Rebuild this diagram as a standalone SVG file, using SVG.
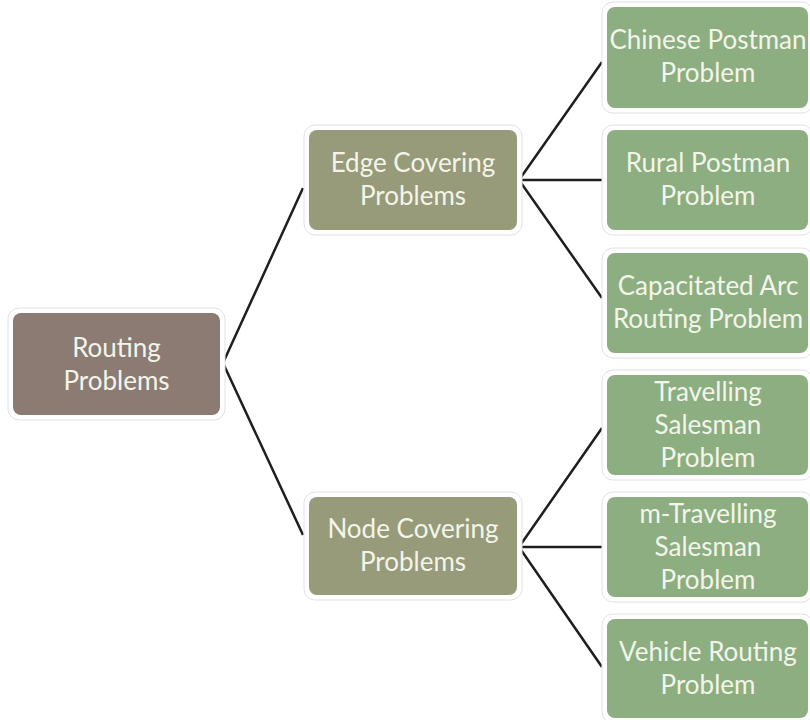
<svg xmlns="http://www.w3.org/2000/svg" width="810" height="720" viewBox="0 0 810 720">
<style>
.halo{fill:#ffffff;stroke:#e2e2e2;stroke-width:1}
.root{fill:#8b7b73}
.mid{fill:#979b79}
.leaf{fill:#8cae81}
text{font-family:Lato,"Open Sans","Liberation Sans",sans-serif;font-size:26px;fill:#f3f5ea;text-anchor:middle}
.conn{fill:none;stroke:#1e1e1e;stroke-width:2.5;stroke-linejoin:miter}
</style>
<rect width="810" height="720" fill="#ffffff"/>
<g id="connectors">
<path class="conn" d="M303,188 L223,363 L303,535"/>
<path class="conn" d="M602,62 L519,180 L602,298 M519,180 H602"/>
<path class="conn" d="M602,428 L519,547 L602,667 M519,547 H602"/>
</g>
<g id="routing">
<rect class="halo" x="8" y="308" width="217" height="112" rx="11"/>
<rect class="root" x="13" y="313" width="207" height="102" rx="8"/>
<text x="116.5" y="357">Routing</text>
<text x="116.5" y="390">Problems</text>
</g>
<g id="edge">
<rect class="halo" x="304" y="125" width="218" height="110" rx="11"/>
<rect class="mid" x="309" y="130" width="208" height="100" rx="8"/>
<text x="413" y="172">Edge Covering</text>
<text x="413" y="205">Problems</text>
</g>
<g id="node">
<rect class="halo" x="304" y="492" width="218" height="108" rx="11"/>
<rect class="mid" x="309" y="497" width="208" height="98" rx="8"/>
<text x="413" y="538">Node Covering</text>
<text x="413" y="571">Problems</text>
</g>
<g id="chinese">
<rect class="halo" x="602" y="2" width="211" height="111" rx="11"/>
<rect class="leaf" x="607" y="7" width="201" height="101" rx="8"/>
<text x="708" y="49">Chinese Postman</text>
<text x="708" y="82">Problem</text>
</g>
<g id="rural">
<rect class="halo" x="602" y="125" width="211" height="110" rx="11"/>
<rect class="leaf" x="607" y="130" width="201" height="100" rx="8"/>
<text x="708" y="172">Rural Postman</text>
<text x="708" y="205">Problem</text>
</g>
<g id="capacitated">
<rect class="halo" x="602" y="248" width="211" height="110" rx="11"/>
<rect class="leaf" x="607" y="253" width="201" height="100" rx="8"/>
<text x="708" y="295">Capacitated Arc</text>
<text x="708" y="328">Routing Problem</text>
</g>
<g id="travelling">
<rect class="halo" x="602" y="370" width="211" height="110" rx="11"/>
<rect class="leaf" x="607" y="375" width="201" height="100" rx="8"/>
<text x="708" y="401">Travelling</text>
<text x="708" y="434">Salesman</text>
<text x="708" y="467">Problem</text>
</g>
<g id="mtravelling">
<rect class="halo" x="602" y="492" width="211" height="110" rx="11"/>
<rect class="leaf" x="607" y="497" width="201" height="100" rx="8"/>
<text x="708" y="523">m-Travelling</text>
<text x="708" y="556">Salesman</text>
<text x="708" y="589">Problem</text>
</g>
<g id="vehicle">
<rect class="halo" x="602" y="614" width="211" height="109" rx="11"/>
<rect class="leaf" x="607" y="619" width="201" height="99" rx="8"/>
<text x="708" y="661">Vehicle Routing</text>
<text x="708" y="694">Problem</text>
</g>
</svg>
